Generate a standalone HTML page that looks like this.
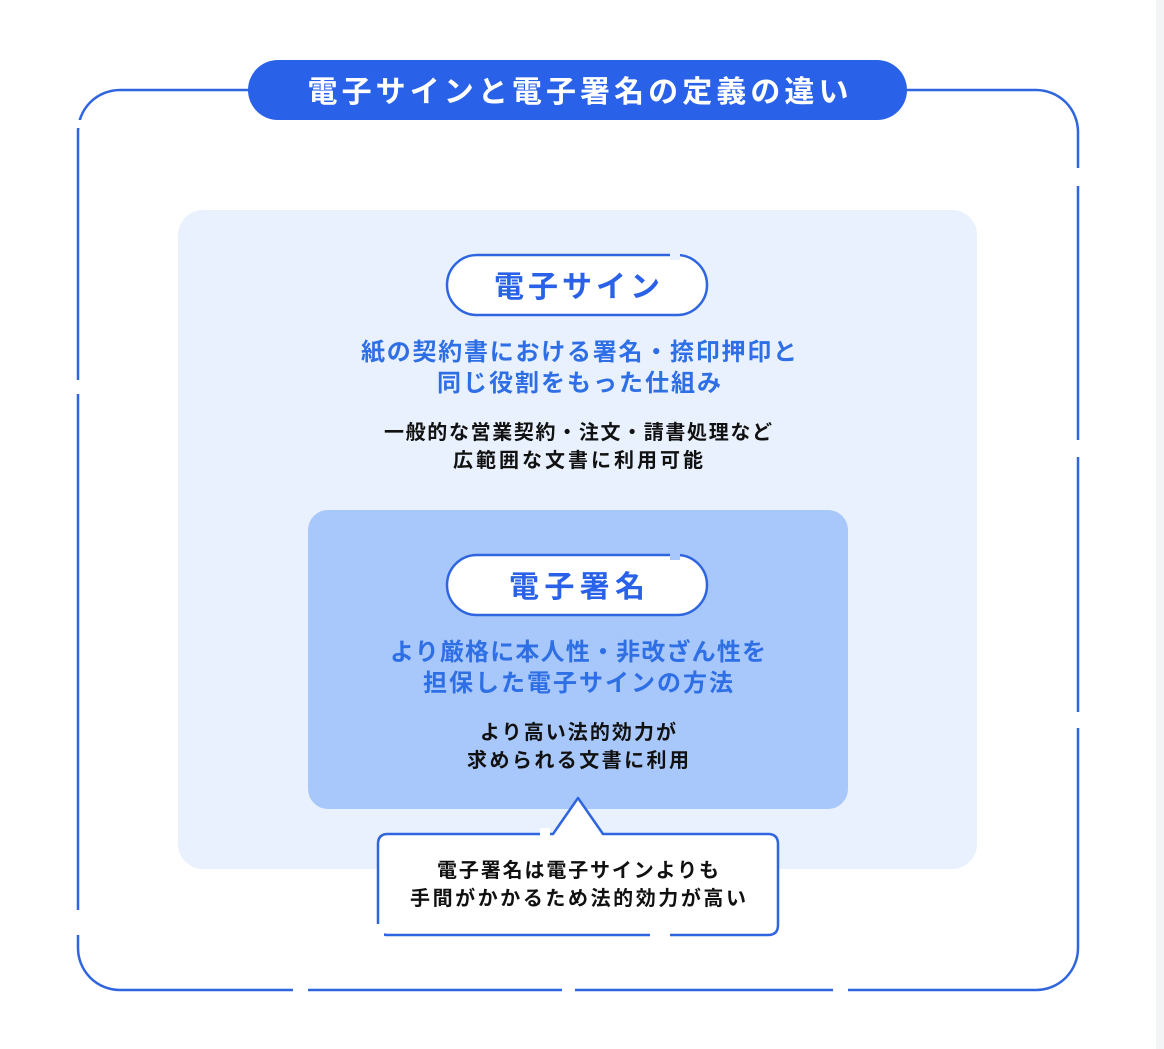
<!DOCTYPE html>
<html><head><meta charset="utf-8"><style>
html,body{margin:0;padding:0;background:#fff;}
svg{display:block;}
text{font-family:"Liberation Sans","Noto Sans CJK JP",sans-serif;font-weight:bold;text-anchor:middle;}
</style></head><body>
<svg width="1164" height="1049" viewBox="0 0 1164 1049">
<rect x="1156" y="0" width="8" height="1049" fill="#f3f4f6"/>
<!-- outer frame -->
<rect x="78" y="90" width="1000" height="900" rx="42" fill="none" stroke="#2f66e0" stroke-width="2.5"/>
<g fill="#fff">
<rect x="70" y="120" width="16" height="8"/>
<rect x="70" y="380" width="16" height="14"/>
<rect x="70" y="910" width="16" height="25"/>
<rect x="1070" y="168" width="16" height="18"/>
<rect x="1070" y="440" width="16" height="17"/>
<rect x="1070" y="712" width="16" height="16"/>
<rect x="293" y="982" width="15" height="16"/>
<rect x="562" y="982" width="13" height="16"/>
<rect x="833" y="982" width="15" height="16"/>
</g>
<!-- title -->
<rect x="248" y="60" width="659" height="60" rx="30" fill="#2962e8"/>
<text x="578" y="102" font-size="30" fill="#fff" textLength="541" lengthAdjust="spacing">電子サインと電子署名の定義の違い</text>
<!-- light box -->
<rect x="178" y="210" width="799" height="659" rx="25" fill="#e8f1fd"/>
<!-- pill 1 -->
<rect x="447" y="255" width="260" height="60" rx="30" fill="#fff" stroke="#2f66e0" stroke-width="2.5"/>
<rect x="670" y="248" width="10" height="12" fill="#e8f1fd"/>
<text x="577" y="297" font-size="30" fill="#2962e8" textLength="166" lengthAdjust="spacing">電子サイン</text>
<text x="579" y="360" font-size="24" fill="#2f6fe6" textLength="436" lengthAdjust="spacing">紙の契約書における署名・捺印押印と</text>
<text x="579" y="391" font-size="24" fill="#2f6fe6" textLength="284" lengthAdjust="spacing">同じ役割をもった仕組み</text>
<text x="578" y="439" font-size="20" fill="#111" textLength="388" lengthAdjust="spacing">一般的な営業契約・注文・請書処理など</text>
<text x="578" y="467" font-size="20" fill="#111" textLength="250" lengthAdjust="spacing">広範囲な文書に利用可能</text>
<!-- inner box -->
<rect x="308" y="510" width="540" height="299" rx="20" fill="#a8c8fb"/>
<rect x="447" y="555" width="260" height="60" rx="30" fill="#fff" stroke="#2f66e0" stroke-width="2.5"/>
<rect x="670" y="548" width="10" height="12" fill="#a8c8fb"/>
<text x="577" y="597" font-size="30" fill="#2962e8" textLength="136" lengthAdjust="spacing">電子署名</text>
<text x="578" y="660" font-size="24" fill="#2f6fe6" textLength="376" lengthAdjust="spacing">より厳格に本人性・非改ざん性を</text>
<text x="578" y="691" font-size="24" fill="#2f6fe6" textLength="310" lengthAdjust="spacing">担保した電子サインの方法</text>
<text x="578" y="739" font-size="20" fill="#111" textLength="196" lengthAdjust="spacing">より高い法的効力が</text>
<text x="578" y="767" font-size="20" fill="#111" textLength="222" lengthAdjust="spacing">求められる文書に利用</text>
<!-- callout -->
<path d="M388 834 H553 L578 798 L603 834 H768 Q778 834 778 844 V925 Q778 935 768 935 H388 Q378 935 378 925 V844 Q378 834 388 834 Z" fill="#fff" stroke="#2f66e0" stroke-width="2.5" stroke-linejoin="round"/>
<rect x="540" y="828" width="10" height="12" fill="#fff"/>
<rect x="650" y="928" width="20" height="12" fill="#fff"/>
<rect x="374" y="924" width="10" height="16" fill="#fff"/>
<text x="578" y="877" font-size="20" fill="#111" textLength="282" lengthAdjust="spacing">電子署名は電子サインよりも</text>
<text x="578" y="905" font-size="20" fill="#111" textLength="336" lengthAdjust="spacing">手間がかかるため法的効力が高い</text>
</svg>
</body></html>
